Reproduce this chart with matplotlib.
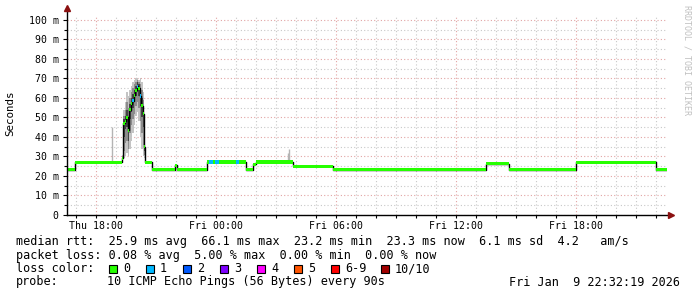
import pandas as pd
import matplotlib
matplotlib.use("Agg")
import matplotlib.pyplot as plt
import matplotlib.dates as mdates
from matplotlib.ticker import MultipleLocator, FuncFormatter
from matplotlib.patches import Rectangle

MONO = "DejaVu Sans Mono"
W, H = 697, 297

START = "2026-01-08 16:32:19"
END = "2026-01-09 22:32:19"

# median rtt in ms, one entry per change point, with lost pings out of 10
med_times = [
    "01-08 16:32", "01-08 16:57",
    "01-08 19:17", "01-08 19:20", "01-08 19:25", "01-08 19:29", "01-08 19:34",
    "01-08 19:38", "01-08 19:43", "01-08 19:47", "01-08 19:52", "01-08 19:56",
    "01-08 20:01", "01-08 20:05", "01-08 20:10", "01-08 20:14", "01-08 20:19",
    "01-08 20:23", "01-08 20:26", "01-08 20:46", "01-08 21:56", "01-08 22:02",
    "01-08 23:32", "01-08 23:39", "01-08 23:51", "01-08 23:56", "01-09 00:09",
    "01-09 01:00", "01-09 01:08", "01-09 01:29", "01-09 01:50", "01-09 01:59",
    "01-09 03:50", "01-09 05:50", "01-09 13:29", "01-09 14:37", "01-09 17:59",
    "01-09 21:58",
]
med_values = [
    23.2, 27.0,
    29.0, 47.0, 48.0, 50.0, 43.5,
    54.0, 57.0, 58.5, 61.5, 64.0,
    66.0, 65.0, 61.0, 56.0, 52.0,
    35.0, 27.0, 23.2, 25.5, 23.2,
    27.2, 27.2, 27.2, 27.2, 27.2,
    27.2, 27.2, 23.2, 26.0, 27.2,
    25.0, 23.2, 26.2, 23.2, 27.0,
    23.2,
]
med_loss = [
    0, 0,
    0, 0, 0, 0, 0,
    0, 0, 1, 0, 0,
    1, 0, 1, 0, 0,
    0, 0, 0, 0, 0,
    0, 1, 0, 1, 0,
    1, 0, 0, 0, 0,
    0, 0, 0, 0, 0,
    0,
]

# smoke around the evening spike (ms)
smoke_times = [
    "01-08 19:17", "01-08 19:20", "01-08 19:25", "01-08 19:29", "01-08 19:34",
    "01-08 19:38", "01-08 19:43", "01-08 19:47", "01-08 19:52", "01-08 19:56",
    "01-08 20:01", "01-08 20:05", "01-08 20:10", "01-08 20:14", "01-08 20:19",
    "01-08 20:23", "01-08 20:26",
]
smoke_outer_hi = [31, 54, 58, 63, 61, 64, 66, 68, 69, 70, 70, 69, 70, 68, 63, 46, 28]
smoke_outer_lo = [27, 29, 30, 32, 30, 34, 38, 42, 46, 51, 53, 48, 40, 34, 30, 29, 27]
smoke_mid_hi = [30, 51, 54, 58, 55, 60, 63, 65, 67, 68, 69, 68, 67, 64, 59, 42, 27.5]
smoke_mid_lo = [28, 33, 37, 38, 34, 42, 46, 49, 52, 56, 58, 55, 48, 42, 36, 31, 26.5]
smoke_inner_hi = [29.5, 49, 51, 54, 50, 57, 60, 62, 64, 66, 68, 67, 64, 60, 55, 38, 27.2]
smoke_inner_lo = [28.5, 40, 44, 45, 38, 49, 53, 55, 58, 61, 63, 61, 56, 50, 45, 33, 26.8]

# single slow pings sticking out of the median
outlier_times = ["01-08 18:47", "01-09 03:35", "01-09 03:38"]
outlier_base = [27.0, 27.2, 27.2]
outlier_top = [45.0, 32.0, 34.0]

loss_labels = ["0", "1", "2", "3", "4", "5", "6-9", "10/10"]
loss_colors = ["#26ff00", "#00b8ff", "#0059ff", "#7e00ff",
               "#ff00ff", "#ff5500", "#ff0000", "#a10000"]

legend_rows = [
    "median rtt:  25.9 ms avg  66.1 ms max  23.2 ms min  23.3 ms now  6.1 ms sd  4.2   am/s",
    "packet loss: 0.08 % avg  5.00 % max  0.00 % min  0.00 % now",
    "loss color:",
    "probe:",
]
probe_text = "10 ICMP Echo Pings (56 Bytes) every 90s"
stamp_text = "Fri Jan  9 22:32:19 2026"


def to_num(stamps):
    return mdates.date2num(pd.to_datetime(["2026-" + s for s in stamps]))


def px(x, y):
    return x / W, 1 - y / H


def loss_color(n):
    if n <= 5:
        return loss_colors[n]
    return loss_colors[6] if n < 10 else loss_colors[7]


fig = plt.figure(figsize=(W / 100, H / 100), dpi=100)
fig.patch.set_facecolor("white")
ax = fig.add_axes([67 / W, (H - 215) / H, 600 / W, 200 / H])

t0 = mdates.date2num(pd.Timestamp(START))
t1 = mdates.date2num(pd.Timestamp(END))
ax.set_xlim(t0, t1)
ax.set_ylim(0, 102.56)

# grid
ax.xaxis.set_major_locator(mdates.HourLocator(byhour=[0, 6, 12, 18]))
ax.xaxis.set_minor_locator(mdates.HourLocator())
ax.xaxis.set_major_formatter(mdates.DateFormatter("%a %H:%M"))
ax.yaxis.set_major_locator(MultipleLocator(10))
ax.yaxis.set_minor_locator(MultipleLocator(5))
ax.yaxis.set_major_formatter(FuncFormatter(lambda v, p: "0" if v == 0 else f"{v:.0f} m"))
ax.grid(which="minor", color="#c8c8c8", linestyle=(0, (1, 2)), linewidth=0.8)
ax.grid(which="major", color="#e2a4a4", linestyle=(0, (1, 2)), linewidth=0.8)
ax.set_axisbelow(True)

# smoke
sx = list(to_num(smoke_times))
ax.fill_between(sx, smoke_outer_lo, smoke_outer_hi, step="post",
                color="#c4c4c4", linewidth=0, zorder=2)
ax.fill_between(sx, smoke_mid_lo, smoke_mid_hi, step="post",
                color="#8c8c8c", linewidth=0, zorder=2)
ax.fill_between(sx, smoke_inner_lo, smoke_inner_hi, step="post",
                color="#444444", linewidth=0, zorder=2)
ax.vlines(to_num(outlier_times), outlier_base, outlier_top,
          color="#b4b4b4", linewidth=1, zorder=2)

# median: thin black steps, colored band per loss
mx = list(to_num(med_times)) + [t1]
my = med_values + [med_values[-1]]
ax.step(mx, my, where="post", color="black", linewidth=1, zorder=3)
for i, v in enumerate(med_values):
    ax.bar(mx[i], 1.6, bottom=v - 0.8, width=mx[i + 1] - mx[i], align="edge",
           color=loss_color(med_loss[i]), linewidth=0, zorder=4)

# axes and arrows
for s in ["top", "right", "left", "bottom"]:
    ax.spines[s].set_visible(False)
ax.plot([0, 0], [0, 1.035], transform=ax.transAxes, color="black",
        linewidth=1, clip_on=False, zorder=5)
ax.plot([0, 1.006], [0, 0], transform=ax.transAxes, color="black",
        linewidth=1, clip_on=False, zorder=5)
ax.plot([0], [1.035], transform=ax.transAxes, marker="^", color="#8b1010",
        markersize=4, clip_on=False, zorder=6)
ax.plot([1.006], [0], transform=ax.transAxes, marker=">", color="#8b1010",
        markersize=4, clip_on=False, zorder=6)

ax.tick_params(axis="both", which="both", direction="out", color="black",
               width=0.8, labelsize=7.1, labelcolor="black")
ax.tick_params(axis="y", which="major", length=3, pad=3)
ax.tick_params(axis="y", which="minor", length=2)
ax.tick_params(axis="x", which="major", length=2, pad=2.5)
ax.tick_params(axis="x", which="minor", length=2)
for lab in ax.get_xticklabels() + ax.get_yticklabels():
    lab.set_family(MONO)

fig.text(*px(10, 113), "Seconds", rotation=90, ha="center", va="center",
         family=MONO, fontsize=7.8)
fig.text(*px(687, 60), "RRDTOOL / TOBI OETIKER", rotation=270, ha="center",
         va="center", family=MONO, fontsize=6, color="#c0c0c0")

# legend block
row_y = [241, 255, 268.5, 282]
for text, y in zip(legend_rows, row_y):
    fig.text(*px(16, y), text, ha="left", va="center", family=MONO, fontsize=8.5)

box_x = [109, 146, 183, 220, 257, 294, 331, 381]
for bx, lab, col in zip(box_x, loss_labels, loss_colors):
    fig.patches.append(Rectangle(px(bx, 273), 8 / W, 8.5 / H, transform=fig.transFigure,
                                 facecolor=col, edgecolor="black", linewidth=0.8))
    fig.text(*px(bx + 14, 268.5), lab, ha="left", va="center", family=MONO, fontsize=8.5)

fig.text(*px(107, 282), probe_text, ha="left", va="center", family=MONO, fontsize=8.5)
fig.text(*px(680, 282), stamp_text, ha="right", va="center", family=MONO, fontsize=8.5)

fig.savefig("out.png", dpi=100, facecolor="white")
